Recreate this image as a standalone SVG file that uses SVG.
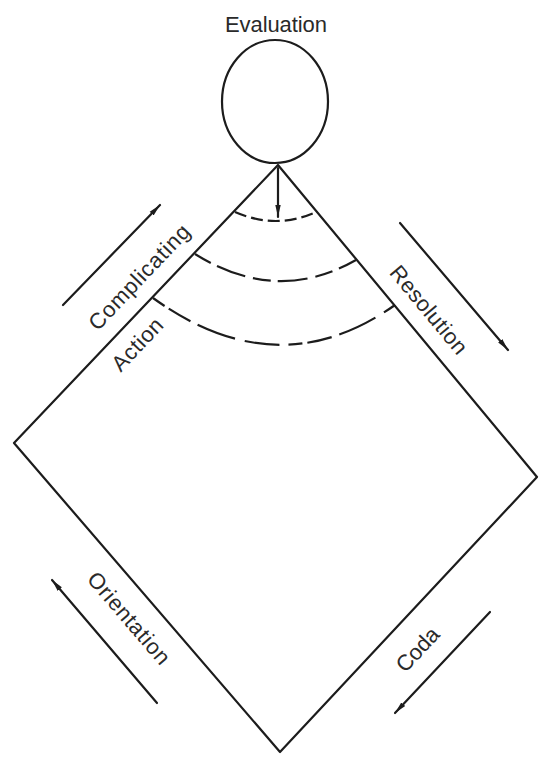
<svg xmlns="http://www.w3.org/2000/svg" width="539" height="757" viewBox="0 0 539 757">
<style>
.ln{stroke:#1c1c1c;stroke-width:2.2;fill:none;stroke-linecap:round;stroke-linejoin:round}
.ar{stroke:#1c1c1c;stroke-width:2.2;fill:none;stroke-linecap:round;marker-end:url(#ah)}
.ds{stroke:#1c1c1c;stroke-width:2.2;fill:none}
.lb{font-family:"Liberation Sans",Arial,sans-serif;font-size:22px;fill:#2a2a2a;text-anchor:middle}
</style>
<defs>
<marker id="ah" markerUnits="userSpaceOnUse" markerWidth="14" markerHeight="8" refX="12" refY="3.5" orient="auto">
<path d="M0,0.8 L12,3.5 L0,6.2 z" fill="#1c1c1c"/>
</marker>
</defs>
<rect width="539" height="757" fill="#fff"/>
<g id="evaluation">
<ellipse cx="275" cy="101.5" rx="53" ry="61.5" class="ln" stroke-width="2.6"/>
<text class="lb" x="276" y="32" textLength="102">Evaluation</text>
</g>
<g id="diamond">
<polygon points="278,165 537,477 280,752 14,443" class="ln"/>
</g>
<g id="arcs">
<path class="ds" d="M235,212 Q276,230 316,212" stroke-dasharray="12 5"/>
<path class="ds" d="M195,254 Q277,305 356,260" stroke-dasharray="18 7 30 8"/>
<path class="ds" d="M153,298 Q278,388 395,305" stroke-dasharray="14 5 25 8 40 10 35 9"/>
</g>
<g id="connectors">
<line class="ar" x1="278" y1="168" x2="278" y2="217"/>
<line class="ar" x1="63" y1="305" x2="160" y2="205"/>
<line class="ar" x1="400" y1="223" x2="508" y2="350"/>
<line class="ar" x1="157" y1="703" x2="52" y2="580"/>
<line class="ar" x1="490" y1="612" x2="395" y2="713"/>
</g>
<g id="complicating">
<text class="lb" transform="translate(144.5,282.3) rotate(-46.5)" textLength="136">Complicating</text>
</g>
<g id="action">
<text class="lb" transform="translate(142.7,349.6) rotate(-46.5)" textLength="64">Action</text>
</g>
<g id="resolution">
<text class="lb" transform="translate(423,314.6) rotate(50.3)" textLength="108">Resolution</text>
</g>
<g id="orientation">
<text class="lb" transform="translate(123.2,623) rotate(49.3)" textLength="114">Orientation</text>
</g>
<g id="coda">
<text class="lb" transform="translate(423,654.6) rotate(-46.9)" textLength="52">Coda</text>
</g>
</svg>
